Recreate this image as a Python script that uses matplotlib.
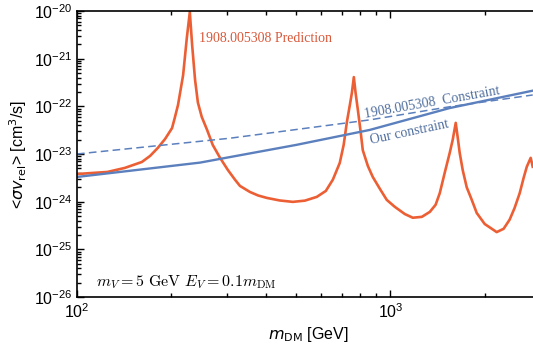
import numpy as np
import matplotlib
matplotlib.use("Agg")
import matplotlib.pyplot as plt
from matplotlib.ticker import LogLocator, LogFormatterSciNotation, NullFormatter

plt.rcParams['font.family'] = ['Liberation Sans', 'DejaVu Sans']

# 1908.005308 prediction (resonant curve)
m_pred = [100, 112, 125, 142, 161, 171, 181, 191, 201, 205, 210, 218, 224, 229,
          233, 238, 243, 250, 260, 271, 286, 303, 319, 331, 356, 378, 403, 443, 488,
          533, 582, 622, 655, 689, 709, 726, 742, 753, 764, 774, 787, 804, 816, 847,
          878, 925, 973, 1032, 1111, 1178, 1259, 1335, 1393, 1436, 1489, 1545, 1580,
          1615, 1639, 1663, 1700, 1751, 1816, 1884, 1998, 2182, 2296, 2400, 2489,
          2583, 2661, 2722, 2801, 2843]
sv_pred = [3.8e-24, 4.0e-24, 4.2e-24, 5.1e-24, 6.8e-24, 9.1e-24, 1.34e-23, 2.07e-23, 3.5e-23,
           5.7e-23, 1.07e-22, 4.5e-22, 2.7e-21, 9.5e-21,
           1.9e-21, 3.6e-22, 1.2e-22, 6.0e-23, 3.2e-23, 1.55e-23, 8.3e-24, 4.6e-24, 2.9e-24,
           2.14e-24, 1.6e-24, 1.35e-24, 1.2e-24, 1.06e-24, 9.9e-25,
           1.05e-24, 1.26e-24, 1.68e-24, 2.9e-24, 6.5e-24, 1.55e-23, 4.7e-23, 1.07e-22,
           1.9e-22, 4.1e-22, 1.9e-22, 8.4e-23, 2.77e-23, 1.2e-23, 5.6e-24,
           3.3e-24, 1.86e-24, 1.09e-24, 7.8e-25, 5.5e-25, 4.6e-25, 4.8e-25, 6.1e-25,
           8.6e-25, 1.5e-24, 4.0e-24, 1.05e-23, 2.0e-23,
           4.5e-23, 2.2e-23, 1.05e-23, 4.6e-24, 2.0e-24, 1.1e-24, 5.8e-25, 3.4e-25,
           2.3e-25, 2.7e-25, 4.2e-25, 7.4e-25,
           1.5e-24, 3.2e-24, 5.4e-24, 8.3e-24, 5.4e-24]

# our constraint (solid)
m_ours = [100, 247, 307, 500, 859, 1545, 2843]
sv_ours = [3.3e-24, 6.6e-24, 8.6e-24, 1.55e-23, 3.2e-23, 9.2e-23, 2.13e-22]

# 1908.005308 constraint (dashed)
m_old = [100, 307, 859, 1545, 2843]
sv_old = [1.0e-23, 2.14e-23, 5.2e-23, 9.8e-23, 1.73e-22]

red = '#ec5f34'
blue = '#5b80bd'
txt_blue = '#4f6e9e'

fig = plt.figure(figsize=(5.33, 3.49), dpi=100)
ax = fig.add_axes([0.1445, 0.149, 0.8687, 0.8195])

ax.plot(m_pred, sv_pred, color=red, lw=1.9, solid_joinstyle='round')
ax.plot(m_ours, sv_ours, color=blue, lw=1.7)
ax.plot(m_old, sv_old, color=blue, lw=1.1, ls=(0, (5, 2.8)))

ax.set_xscale('log')
ax.set_yscale('log')
ax.set_xlim(100, 3000)
ax.set_ylim(1e-26, 1e-20)

ax.yaxis.set_major_locator(LogLocator(base=10, numticks=10))
ax.yaxis.set_minor_locator(LogLocator(base=10, subs=np.arange(2, 10), numticks=20))
ax.yaxis.set_minor_formatter(NullFormatter())
ax.xaxis.set_minor_formatter(NullFormatter())
ax.xaxis.set_major_formatter(LogFormatterSciNotation())
ax.yaxis.set_major_formatter(LogFormatterSciNotation())

ax.tick_params(which='both', direction='in', top=True, right=False, labelsize=11.5, width=1.0)
ax.tick_params(which='major', length=5)
ax.tick_params(which='minor', length=3)
ax.tick_params(axis='x', pad=4)
for s in ['left', 'bottom', 'top']:
    ax.spines[s].set_linewidth(1.2)
ax.spines['right'].set_visible(False)

ax.set_xlabel(r'$m_{\rm DM}$ [GeV]', fontsize=11.5, labelpad=3)
ax.set_ylabel(r'<$\sigma v_{\rm rel}$> [cm$^3$/s]', fontsize=11.5, labelpad=3)

ax.text(245, 2.6e-21, '1908.005308 Prediction', color='#d8583a', fontsize=10,
        family='Liberation Serif', va='center', ha='left')
ax.text(1355, 1.17e-22, '1908.005308  Constraint', color=txt_blue, fontsize=10,
        family='Liberation Serif', va='center', ha='center', rotation=10)
ax.text(1152, 2.9e-23, 'Our constraint', color=txt_blue, fontsize=10,
        family='Liberation Serif', va='center', ha='center', rotation=12)
ax.text(115, 1.64e-26, r'$m_V = 5\ \mathrm{GeV}\ E_V = 0.1 m_{\rm DM}$', fontsize=11.5,
        math_fontfamily='cm', va='baseline', ha='left')

fig.savefig('out.png', dpi=100)
